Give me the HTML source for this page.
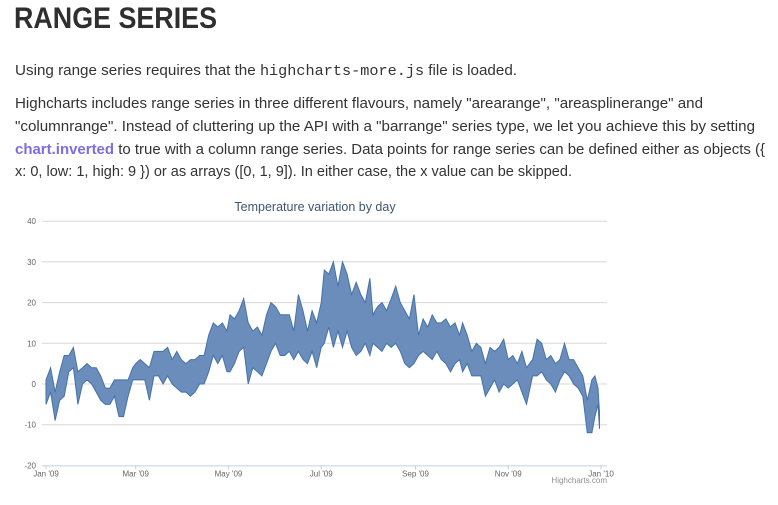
<!DOCTYPE html>
<html><head><meta charset="utf-8">
<style>
body{margin:0;width:778px;height:505px;background:#fff;font-family:"Liberation Sans",sans-serif;color:#333;position:relative;overflow:hidden}
.ln{position:absolute;left:15px;white-space:nowrap;font-size:15px;transform-origin:0 0}
h1{position:absolute;left:14px;top:2px;margin:0;font-size:30px;font-weight:bold;color:#2f2f2f;white-space:nowrap;transform-origin:0 0}
code{font-family:"Liberation Mono",monospace;font-size:15px}
b.k{color:#7b6fe0}
svg{position:absolute;left:0;top:0}
</style></head><body>
<h1 data-w="203">RANGE SERIES</h1>
<div class="ln" style="top:62px" data-w="502">Using range series requires that the <code>highcharts-more.js</code> file is loaded.</div>
<div class="ln" style="top:95px" data-w="688">Highcharts includes range series in three different flavours, namely "arearange", "areasplinerange" and</div>
<div class="ln" style="top:118px" data-w="740">"columnrange". Instead of cluttering up the API with a "barrange" series type, we let you achieve this by setting</div>
<div class="ln" style="top:141px" data-w="750"><b class="k">chart.inverted</b> to true with a column range series. Data points for range series can be defined either as objects ({</div>
<div class="ln" style="top:163px" data-w="557">x: 0, low: 1, high: 9 }) or as arrays ([0, 1, 9]). In either case, the x value can be skipped.</div>
<svg id="c" width="778" height="505"></svg>
<script>
const days=[0,3,6,9,12,15,18,21,24,27,30,33,36,39,42,45,48,51,54,57,59,62,65,68,71,74,77,80,83,86,89,92,95,98,101,104,107,110,113,116,119,121,124,127,130,133,136,139,142,145,148,151,154,157,160,163,166,169,172,175,178,181,183,186,189,192,195,198,201,204,207,210,213,215,218,221,224,227,230,233,236,239,242,245,248,251,254,257,260,263,266,269,272,274,277,280,283,286,289,292,295,298,301,304,307,310,313,316,320,323,326,329,332,335,338,341,344,347,350,353,356,359,361,363,364];
const lows=[-5,-2,-9,-4,-3,3,4,-5,0,1,0,-2,-4,-5,-5,-3,-8,-8,-3,1,1,1,1,-4,2,2,0,2,0,-1,-2,-2,-3,-2,0,0,3,7,5,7,3,3,5,8,9,0,4,3,2,5,8,10,7,7,8,6,8,6,5,8,4,9,10,14,9,13,9,13,9,7,8,10,7,10,9,8,10,9,10,8,5,4,5,7,8,7,6,8,6,5,3,5,6,3,5,2,2,2,-3,-1,1,-2,0,-1,0,1,-2,-5,2,2,3,1,0,-2,1,3,2,0,-1,-3,-12,-12,-8,-5,-11];
const highs=[1,4,-2,3,7,7,9,3,4,5,4,4,2,-1,-1,1,1,1,1,4,5,6,5,4,8,8,8,9,6,8,6,5,6,6,7,7,12,15,14,15,13,17,16,18,21,15,13,14,12,17,20,19,17,17,17,13,22,18,13,18,15,20,28,27,30,24,30,27,22,25,22,20,26,17,19,20,18,21,24,20,18,16,22,12,16,14,17,15,15,16,14,15,12,15,12,8,10,9,5,9,8,9,11,6,7,5,8,4,6,11,10,6,7,5,6,10,6,6,4,2,-4,1,2,-1,-7];
const yTicks=[-20,-10,0,10,20,30,40];
const xLabels=["Jan '09","Mar '09","May '09","Jul '09","Sep '09","Nov '09","Jan '10"];
const xLabelDays=[0,59,120,181,243,304,365];
const X=d=>46+d*555/365, Y=v=>384-v*4.07;
const svg=document.getElementById('c');const NS='http://www.w3.org/2000/svg';
function mk(t,a,p){const e=document.createElementNS(NS,t);for(const k in a)e.setAttribute(k,a[k]);(p||svg).appendChild(e);return e;}
const tt=mk('text',{x:315,y:211,'text-anchor':'middle','font-size':'12.5','fill':'#3e576f','font-family':'Liberation Sans'});


tt.textContent='Temperature variation by day';
yTicks.forEach(v=>{
 if(v>-20){const g=mk('line',{x1:42,x2:607,y1:Y(v),y2:Y(v),stroke:'#d8d8d8','stroke-width':1});
 
 }
 const t=mk('text',{x:36,y:Y(v)+3,'text-anchor':'end','font-size':'8','fill':'#666','font-family':'Liberation Sans'});
 
 
 t.textContent=v;
});
const ax=mk('line',{x1:42,x2:607,y1:Y(-20)+0.5,y2:Y(-20)+0.5,stroke:'#c0d0e0'});


xLabelDays.forEach((d,i)=>{
 mk('line',{x1:X(d),x2:X(d),y1:Y(-20),y2:Y(-20)+4,stroke:'#c0d0e0'});
 const t=mk('text',{x:X(d),y:Y(-20)+11,'text-anchor':'middle','font-size':'8','fill':'#666','font-family':'Liberation Sans'});
 
 
 t.textContent=xLabels[i];
});
let d='';days.forEach((x,i)=>d+=(i?'L':'M')+X(x).toFixed(1)+','+Y(highs[i]).toFixed(1));
for(let i=days.length-1;i>=0;i--)d+='L'+X(days[i]).toFixed(1)+','+Y(lows[i]).toFixed(1);
const area=mk('path',{d:d+'Z',fill:'#6a8dbc',stroke:'#4572a7','stroke-width':1});


const cr=mk('text',{x:607,y:483,'text-anchor':'end','font-size':'8','fill':'#909090','font-family':'Liberation Sans'});


cr.textContent='Highcharts.com';
document.querySelectorAll('[data-w]').forEach(e=>{const w=e.getBoundingClientRect().width;e.style.transform='scaleX('+(+e.dataset.w/w)+')';});
</script>
</body></html>
